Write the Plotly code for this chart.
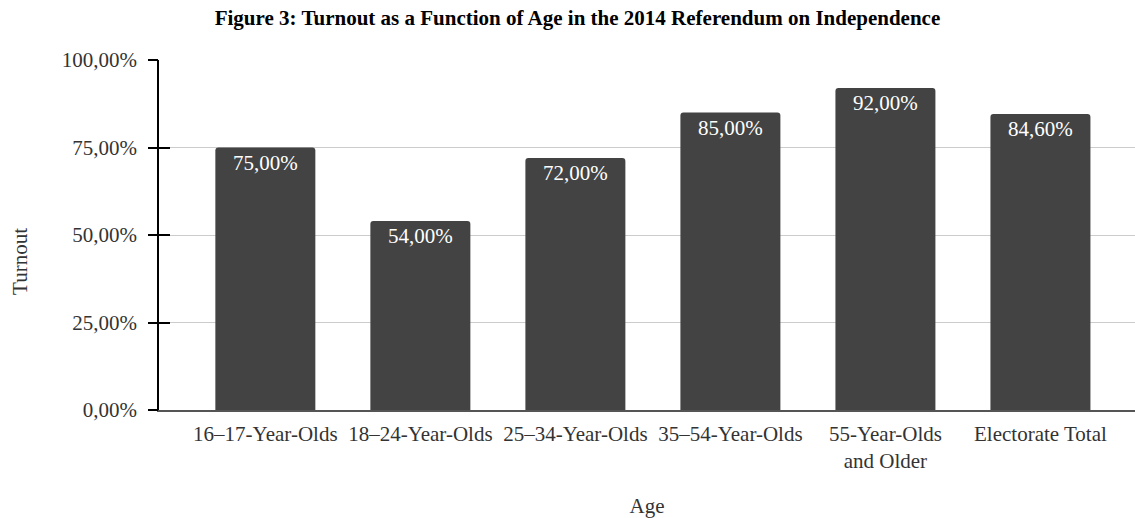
import plotly.graph_objects as go

categories = ["16–17-Year-Olds", "18–24-Year-Olds", "25–34-Year-Olds",
              "35–54-Year-Olds", "55-Year-Olds<br>and Older", "Electorate Total"]
turnout = [0.75, 0.54, 0.72, 0.85, 0.92, 0.846]
y_ticks = [0, 0.25, 0.5, 0.75, 1.0]

FONT = "Liberation Serif"
BAR = "#434343"
TXT = "#333333"

fig = go.Figure()
fig.add_trace(go.Bar(
    x=categories, y=turnout,
    marker=dict(color=BAR, line=dict(width=0)),
    texttemplate="%{y:.2%}",
    textposition="inside",
    insidetextanchor="end",
    textfont=dict(family=FONT, size=21, color="white"),
    constraintext="none",
    hoverinfo="skip",
))
# invisible trace on second y axis so it shows the outside ticks
fig.add_trace(go.Scatter(x=categories, y=turnout, yaxis="y2", mode="markers",
                         marker=dict(opacity=0), hoverinfo="skip", showlegend=False))

fig.update_layout(
    width=1135, height=518,
    margin=dict(l=159, r=0, t=59.5, b=107.5, autoexpand=False),
    paper_bgcolor="white", plot_bgcolor="white",
    separators=",.",
    showlegend=False,
    bargap=0.355,
    barcornerradius=3,
    font=dict(family=FONT, color=TXT, size=21),
    title=dict(text="<b>Figure 3: Turnout as a Function of Age in the 2014 Referendum on Independence</b>",
               x=0.5088, xref="container", xanchor="center", y=0.965, yanchor="middle",
               font=dict(family=FONT, size=21, color="black")),
    xaxis=dict(
        range=[-0.686, 5.61],
        showgrid=False, ticks="",
        showline=True, linecolor="#555555", linewidth=1.5,
        tickfont=dict(family=FONT, size=21, color=TXT),
        ticklabelstandoff=4,
        title=dict(text="Age", font=dict(family=FONT, size=21, color=TXT), standoff=28),
    ),
    yaxis=dict(
        range=[0, 1], tickvals=y_ticks, tickformat=".2%",
        showgrid=True, gridcolor="#cccccc", gridwidth=1,
        showline=True, linecolor="black", linewidth=1.5,
        ticks="inside", ticklen=11, tickcolor="black", tickwidth=1.5,
        tickfont=dict(family=FONT, size=21, color=TXT),
        ticklabelstandoff=16,
        zeroline=False,
    ),
    yaxis2=dict(
        range=[0, 1], tickvals=y_ticks, overlaying="y", side="left",
        showgrid=False, showline=False, zeroline=False,
        ticks="outside", ticklen=10, tickcolor="black", tickwidth=1.5,
        showticklabels=False,
    ),
    annotations=[dict(
        text="Turnout", textangle=-90, xref="paper", yref="paper",
        x=(20 - 159) / 976, y=(518 - 262 - 107.5) / 351,
        xanchor="center", yanchor="middle", showarrow=False,
        font=dict(family=FONT, size=21, color=TXT),
    )],
)

fig.write_html("out.html")
